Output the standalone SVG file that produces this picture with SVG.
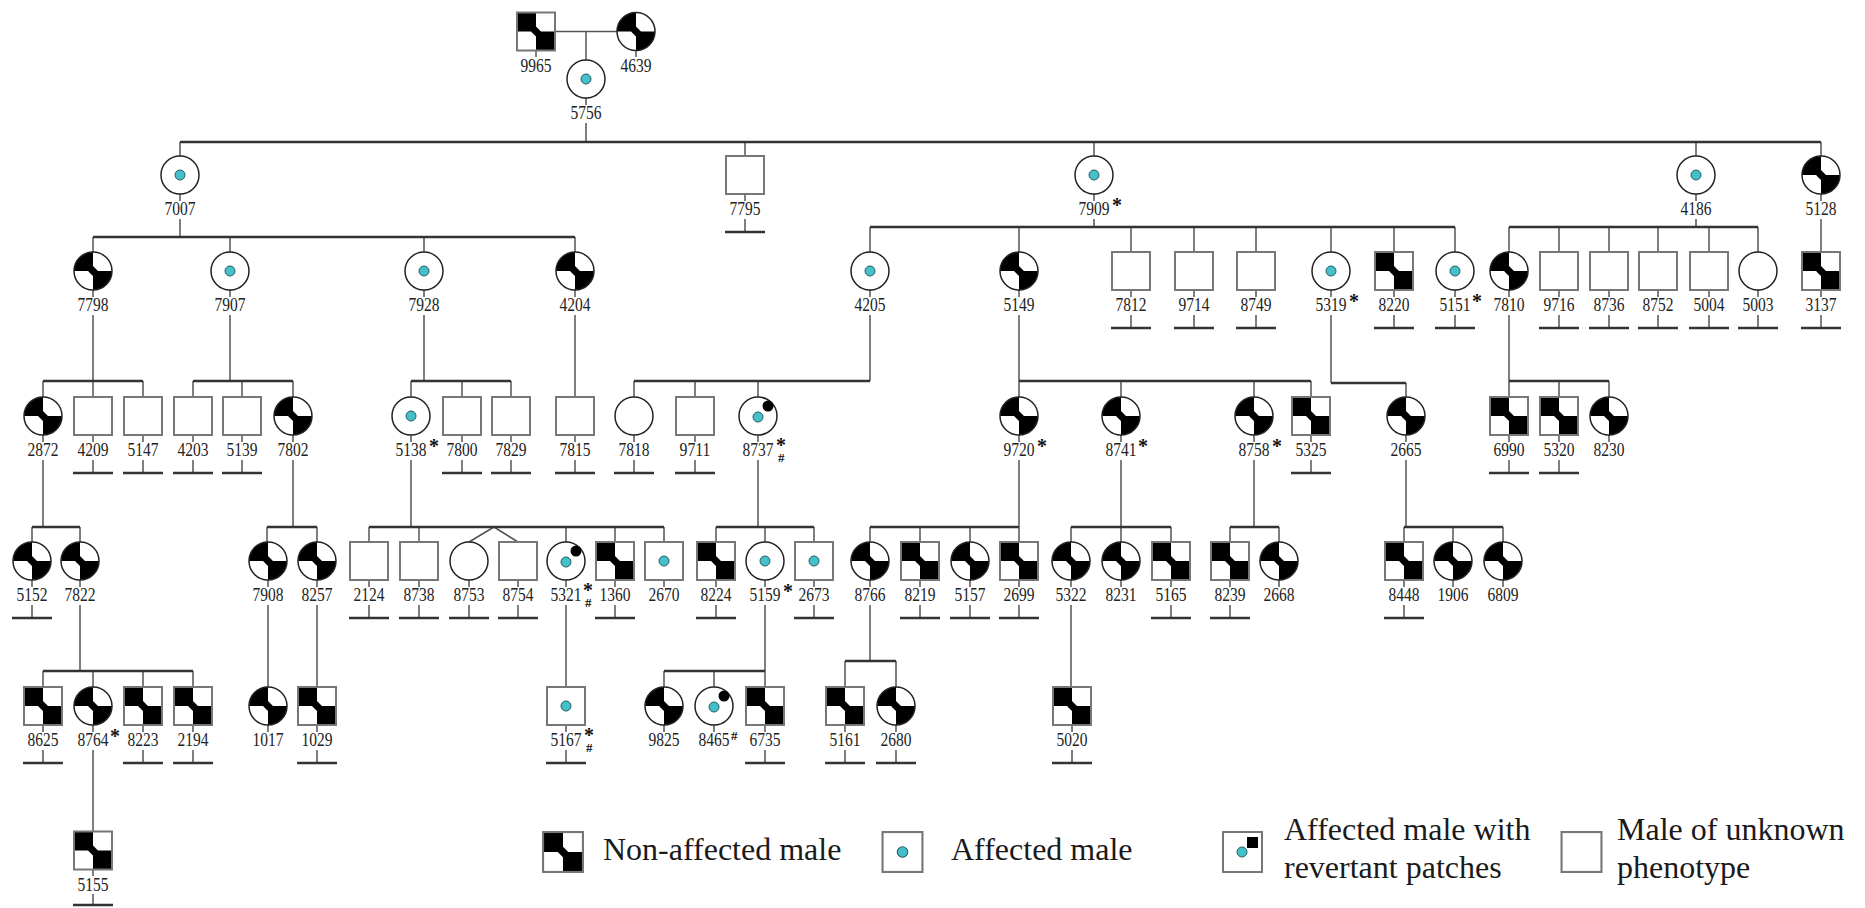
<svg xmlns="http://www.w3.org/2000/svg" xmlns:xlink="http://www.w3.org/1999/xlink" width="1865" height="908" viewBox="0 0 1865 908">
<style>
.ln{stroke:#555;stroke-width:1.5;fill:none}
.sb{stroke:#333;stroke-width:2.5;fill:none}
.lb{font-family:"Liberation Serif","Times New Roman",serif;font-size:18px;fill:#222;text-anchor:middle}
.ast{font-family:"Liberation Serif","Times New Roman",serif;font-size:20px;font-weight:bold;fill:#111}
.hs{font-family:"Liberation Serif","Times New Roman",serif;font-size:13px;font-weight:bold;fill:#111}
.lg{font-family:"Liberation Serif","Times New Roman",serif;font-size:32px;fill:#1a1a1a}
</style>
<defs>
<clipPath id="cc"><circle r="19"/></clipPath>
<g id="sqNA">
<rect x="-19" y="-19" width="38" height="38" fill="#fff"/>
<polygon points="-19,-19 0,-19 0,-5 5,0 19,0 19,19 0,19 0,5 -5,0 -19,0" fill="#000"/>
<rect x="-19" y="-19" width="38" height="38" fill="none" stroke="#777" stroke-width="2"/>
</g>
<g id="cNA">
<circle r="19" fill="#fff"/>
<polygon clip-path="url(#cc)" points="-20,-20 0,-20 0,-5 5,0 20,0 20,20 0,20 0,5 -5,0 -20,0" fill="#000"/>
<circle r="19" fill="none" stroke="#222" stroke-width="1.5"/>
</g>
<g id="sqU"><rect x="-19" y="-19" width="38" height="38" fill="#fff" stroke="#777" stroke-width="2"/></g>
<g id="cU"><circle r="19" fill="#fff" stroke="#222" stroke-width="1.5"/></g>
<circle id="dot" r="5" fill="#45c0c8" stroke="#235f66" stroke-width="1"/>
<g id="cA"><use href="#cU"/><use href="#dot"/></g>
<g id="sqA"><use href="#sqU"/><use href="#dot"/></g>
<g id="cR"><use href="#cU"/><use href="#dot" y="1"/><circle cx="10" cy="-10" r="5.5" fill="#000"/></g>
</defs>
<rect width="1865" height="908" fill="#fff"/>

<g id="connectors">
<path class="ln" d="M556 31.5H617M586 31.5V60M586 123V142M180 142V156M745 142V156M1094 142V156M1696 142V156M1821 142V156
M180 219V237M93 237V252M230 237V252M424 237V252M575 237V252
M1094 219V227M870 227V252M1019 227V252M1131 227V252M1194 227V252M1256 227V252M1331 227V252M1394 227V252M1455 227V252
M1696 219V227M1509 227V252M1559 227V252M1609 227V252M1658 227V252M1709 227V252M1758 227V252
M1821 219V252
M93 315V381M43 381V397M93 381V397M143 381V397
M230 315V381M193 381V397M242 381V397M293 381V397
M424 315V381M411 381V397M462 381V397M511 381V397
M575 315V397
M870 315V381M634 381V397M695 381V397M758 381V397
M1019 315V381M1019 381V397M1121 381V397M1254 381V397M1311 381V397
M1331 315V383M1406 383V397
M1509 315V381M1509 381V397M1559 381V397M1609 381V397
M43 460V527M32 527V542M80 527V542
M293 460V527M267 527V542M317 527V542
M411 460V527M369 527V542M419 527V542M566 527V542M615 527V542M664 527V542M494 527L469 542M494 527L518 542
M758 460V527M716 527V542M765 527V542M814 527V542
M1019 460V527M870 527V542M920 527V542M970 527V542M1019 527V542
M1121 460V527M1071 527V542M1121 527V542M1171 527V542
M1254 460V527M1230 527V542M1279 527V542
M1406 460V527M1404 527V542M1453 527V542M1503 527V542
M80 605V671M43 671V687M93 671V687M143 671V687M193 671V687
M268 605V687M317 605V687M566 605V687
M765 605V687M664 671V687M714 671V687
M870 605V661M845 661V687M896 661V687
M1071 605V687
M93 750V831"/>
<path class="sb" d="M180 142H1821M93 237H575M870 227H1455M1509 227H1758
M43 381H143M193 381H293M411 381H511M634 381H870M1019 381H1311M1331 383H1406M1509 381H1609
M32 527H80M267 527H317M369 527H664M716 527H814M870 527H1019M1071 527H1171M1230 527H1279M1404 527H1503
M43 671H193M664 671H765M845 661H896"/>
<path class="ln" d="M586 98V105M536 50.5V57M636 50.5V57
M180 194V201M745 194V201M1094 194V201M1696 194V201M1821 194V201
M93 290V297M230 290V297M424 290V297M575 290V297M870 290V297M1019 290V297M1131 290V297M1194 290V297M1256 290V297M1331 290V297M1394 290V297M1455 290V297M1509 290V297M1559 290V297M1609 290V297M1658 290V297M1709 290V297M1758 290V297M1821 290V297
M43 435V442M93 435V442M143 435V442M193 435V442M242 435V442M293 435V442M411 435V442M462 435V442M511 435V442M575 435V442M634 435V442M695 435V442M758 435V442M1019 435V442M1121 435V442M1254 435V442M1311 435V442M1406 435V442M1509 435V442M1559 435V442M1609 435V442
M32 580V587M80 580V587M268 580V587M317 580V587M369 580V587M419 580V587M469 580V587M518 580V587M566 580V587M615 580V587M664 580V587M716 580V587M765 580V587M814 580V587M870 580V587M920 580V587M970 580V587M1019 580V587M1071 580V587M1121 580V587M1171 580V587M1230 580V587M1279 580V587M1404 580V587M1453 580V587M1503 580V587
M43 725V732M93 725V732M143 725V732M193 725V732M268 725V732M317 725V732M566 725V732M664 725V732M714 725V732M765 725V732M845 725V732M896 725V732M1072 725V732
M93 869.5V876"/>
<path class="ln" d="M745 219V232
M1131 315V328M1194 315V328M1256 315V328M1394 315V328M1455 315V328M1559 315V328M1609 315V328M1658 315V328M1709 315V328M1758 315V328M1821 315V328
M93 460V473M143 460V473M193 460V473M242 460V473M462 460V473M511 460V473M575 460V473M634 460V473M695 460V473M1311 460V473M1509 460V473M1559 460V473
M32 605V618M369 605V618M419 605V618M469 605V618M518 605V618M615 605V618M716 605V618M814 605V618M920 605V618M970 605V618M1019 605V618M1171 605V618M1230 605V618M1404 605V618
M43 750V763M143 750V763M193 750V763M317 750V763M566 750V763M765 750V763M845 750V763M896 750V763M1072 750V763
M93 894V905"/>
<path class="sb" d="M725 232H765
M1111 328H1151M1174 328H1214M1236 328H1276M1374 328H1414M1435 328H1475M1539 328H1579M1589 328H1629M1638 328H1678M1689 328H1729M1738 328H1778M1801 328H1841
M73 473H113M123 473H163M173 473H213M222 473H262M442 473H482M491 473H531M555 473H595M614 473H654M675 473H715M1291 473H1331M1489 473H1529M1539 473H1579
M12 618H52M349 618H389M399 618H439M449 618H489M498 618H538M595 618H635M696 618H736M794 618H834M900 618H940M950 618H990M999 618H1039M1151 618H1191M1210 618H1250M1384 618H1424
M23 763H63M123 763H163M173 763H213M297 763H337M546 763H586M745 763H785M825 763H865M876 763H916M1052 763H1092
M73 905H113"/>
</g>

<g id="n9965"><use href="#sqNA" x="536" y="31.5"/><text class="lb" x="536" y="72" textLength="31" lengthAdjust="spacingAndGlyphs">9965</text></g>
<g id="n4639"><use href="#cNA" x="636" y="31.5"/><text class="lb" x="636" y="72" textLength="31" lengthAdjust="spacingAndGlyphs">4639</text></g>
<g id="n5756"><use href="#cA" x="586" y="79"/><text class="lb" x="586" y="119" textLength="31" lengthAdjust="spacingAndGlyphs">5756</text></g>

<g id="n7007"><use href="#cA" x="180" y="175"/><text class="lb" x="180" y="215" textLength="31" lengthAdjust="spacingAndGlyphs">7007</text></g>
<g id="n7795"><use href="#sqU" x="745" y="175"/><text class="lb" x="745" y="215" textLength="31" lengthAdjust="spacingAndGlyphs">7795</text></g>
<g id="n7909"><use href="#cA" x="1094" y="175"/><text class="lb" x="1094" y="215" textLength="31" lengthAdjust="spacingAndGlyphs">7909</text><text class="ast" x="1112" y="211.5">*</text></g>
<g id="n4186"><use href="#cA" x="1696" y="175"/><text class="lb" x="1696" y="215" textLength="31" lengthAdjust="spacingAndGlyphs">4186</text></g>
<g id="n5128"><use href="#cNA" x="1821" y="175"/><text class="lb" x="1821" y="215" textLength="31" lengthAdjust="spacingAndGlyphs">5128</text></g>

<g id="n7798"><use href="#cNA" x="93" y="271"/><text class="lb" x="93" y="311" textLength="31" lengthAdjust="spacingAndGlyphs">7798</text></g>
<g id="n7907"><use href="#cA" x="230" y="271"/><text class="lb" x="230" y="311" textLength="31" lengthAdjust="spacingAndGlyphs">7907</text></g>
<g id="n7928"><use href="#cA" x="424" y="271"/><text class="lb" x="424" y="311" textLength="31" lengthAdjust="spacingAndGlyphs">7928</text></g>
<g id="n4204"><use href="#cNA" x="575" y="271"/><text class="lb" x="575" y="311" textLength="31" lengthAdjust="spacingAndGlyphs">4204</text></g>
<g id="n4205"><use href="#cA" x="870" y="271"/><text class="lb" x="870" y="311" textLength="31" lengthAdjust="spacingAndGlyphs">4205</text></g>
<g id="n5149"><use href="#cNA" x="1019" y="271"/><text class="lb" x="1019" y="311" textLength="31" lengthAdjust="spacingAndGlyphs">5149</text></g>
<g id="n7812"><use href="#sqU" x="1131" y="271"/><text class="lb" x="1131" y="311" textLength="31" lengthAdjust="spacingAndGlyphs">7812</text></g>
<g id="n9714"><use href="#sqU" x="1194" y="271"/><text class="lb" x="1194" y="311" textLength="31" lengthAdjust="spacingAndGlyphs">9714</text></g>
<g id="n8749"><use href="#sqU" x="1256" y="271"/><text class="lb" x="1256" y="311" textLength="31" lengthAdjust="spacingAndGlyphs">8749</text></g>
<g id="n5319"><use href="#cA" x="1331" y="271"/><text class="lb" x="1331" y="311" textLength="31" lengthAdjust="spacingAndGlyphs">5319</text><text class="ast" x="1349" y="307.5">*</text></g>
<g id="n8220"><use href="#sqNA" x="1394" y="271"/><text class="lb" x="1394" y="311" textLength="31" lengthAdjust="spacingAndGlyphs">8220</text></g>
<g id="n5151"><use href="#cA" x="1455" y="271"/><text class="lb" x="1455" y="311" textLength="31" lengthAdjust="spacingAndGlyphs">5151</text><text class="ast" x="1472" y="307.5">*</text></g>
<g id="n7810"><use href="#cNA" x="1509" y="271"/><text class="lb" x="1509" y="311" textLength="31" lengthAdjust="spacingAndGlyphs">7810</text></g>
<g id="n9716"><use href="#sqU" x="1559" y="271"/><text class="lb" x="1559" y="311" textLength="31" lengthAdjust="spacingAndGlyphs">9716</text></g>
<g id="n8736"><use href="#sqU" x="1609" y="271"/><text class="lb" x="1609" y="311" textLength="31" lengthAdjust="spacingAndGlyphs">8736</text></g>
<g id="n8752"><use href="#sqU" x="1658" y="271"/><text class="lb" x="1658" y="311" textLength="31" lengthAdjust="spacingAndGlyphs">8752</text></g>
<g id="n5004"><use href="#sqU" x="1709" y="271"/><text class="lb" x="1709" y="311" textLength="31" lengthAdjust="spacingAndGlyphs">5004</text></g>
<g id="n5003"><use href="#cU" x="1758" y="271"/><text class="lb" x="1758" y="311" textLength="31" lengthAdjust="spacingAndGlyphs">5003</text></g>
<g id="n3137"><use href="#sqNA" x="1821" y="271"/><text class="lb" x="1821" y="311" textLength="31" lengthAdjust="spacingAndGlyphs">3137</text></g>

<g id="n2872"><use href="#cNA" x="43" y="416"/><text class="lb" x="43" y="456" textLength="31" lengthAdjust="spacingAndGlyphs">2872</text></g>
<g id="n4209"><use href="#sqU" x="93" y="416"/><text class="lb" x="93" y="456" textLength="31" lengthAdjust="spacingAndGlyphs">4209</text></g>
<g id="n5147"><use href="#sqU" x="143" y="416"/><text class="lb" x="143" y="456" textLength="31" lengthAdjust="spacingAndGlyphs">5147</text></g>
<g id="n4203"><use href="#sqU" x="193" y="416"/><text class="lb" x="193" y="456" textLength="31" lengthAdjust="spacingAndGlyphs">4203</text></g>
<g id="n5139"><use href="#sqU" x="242" y="416"/><text class="lb" x="242" y="456" textLength="31" lengthAdjust="spacingAndGlyphs">5139</text></g>
<g id="n7802"><use href="#cNA" x="293" y="416"/><text class="lb" x="293" y="456" textLength="31" lengthAdjust="spacingAndGlyphs">7802</text></g>
<g id="n5138"><use href="#cA" x="411" y="416"/><text class="lb" x="411" y="456" textLength="31" lengthAdjust="spacingAndGlyphs">5138</text><text class="ast" x="429" y="452.5">*</text></g>
<g id="n7800"><use href="#sqU" x="462" y="416"/><text class="lb" x="462" y="456" textLength="31" lengthAdjust="spacingAndGlyphs">7800</text></g>
<g id="n7829"><use href="#sqU" x="511" y="416"/><text class="lb" x="511" y="456" textLength="31" lengthAdjust="spacingAndGlyphs">7829</text></g>
<g id="n7815"><use href="#sqU" x="575" y="416"/><text class="lb" x="575" y="456" textLength="31" lengthAdjust="spacingAndGlyphs">7815</text></g>
<g id="n7818"><use href="#cU" x="634" y="416"/><text class="lb" x="634" y="456" textLength="31" lengthAdjust="spacingAndGlyphs">7818</text></g>
<g id="n9711"><use href="#sqU" x="695" y="416"/><text class="lb" x="695" y="456" textLength="31" lengthAdjust="spacingAndGlyphs">9711</text></g>
<g id="n8737"><use href="#cR" x="758" y="416"/><text class="lb" x="758" y="456" textLength="31" lengthAdjust="spacingAndGlyphs">8737</text><text class="ast"><tspan x="776" y="451.5">*</tspan><tspan class="hs" x="778" y="462">#</tspan></text></g>
<g id="n9720"><use href="#cNA" x="1019" y="416"/><text class="lb" x="1019" y="456" textLength="31" lengthAdjust="spacingAndGlyphs">9720</text><text class="ast" x="1037" y="452.5">*</text></g>
<g id="n8741"><use href="#cNA" x="1121" y="416"/><text class="lb" x="1121" y="456" textLength="31" lengthAdjust="spacingAndGlyphs">8741</text><text class="ast" x="1138" y="452.5">*</text></g>
<g id="n8758"><use href="#cNA" x="1254" y="416"/><text class="lb" x="1254" y="456" textLength="31" lengthAdjust="spacingAndGlyphs">8758</text><text class="ast" x="1272" y="452.5">*</text></g>
<g id="n5325"><use href="#sqNA" x="1311" y="416"/><text class="lb" x="1311" y="456" textLength="31" lengthAdjust="spacingAndGlyphs">5325</text></g>
<g id="n2665"><use href="#cNA" x="1406" y="416"/><text class="lb" x="1406" y="456" textLength="31" lengthAdjust="spacingAndGlyphs">2665</text></g>
<g id="n6990"><use href="#sqNA" x="1509" y="416"/><text class="lb" x="1509" y="456" textLength="31" lengthAdjust="spacingAndGlyphs">6990</text></g>
<g id="n5320"><use href="#sqNA" x="1559" y="416"/><text class="lb" x="1559" y="456" textLength="31" lengthAdjust="spacingAndGlyphs">5320</text></g>
<g id="n8230"><use href="#cNA" x="1609" y="416"/><text class="lb" x="1609" y="456" textLength="31" lengthAdjust="spacingAndGlyphs">8230</text></g>

<g id="n5152"><use href="#cNA" x="32" y="561"/><text class="lb" x="32" y="601" textLength="31" lengthAdjust="spacingAndGlyphs">5152</text></g>
<g id="n7822"><use href="#cNA" x="80" y="561"/><text class="lb" x="80" y="601" textLength="31" lengthAdjust="spacingAndGlyphs">7822</text></g>
<g id="n7908"><use href="#cNA" x="268" y="561"/><text class="lb" x="268" y="601" textLength="31" lengthAdjust="spacingAndGlyphs">7908</text></g>
<g id="n8257"><use href="#cNA" x="317" y="561"/><text class="lb" x="317" y="601" textLength="31" lengthAdjust="spacingAndGlyphs">8257</text></g>
<g id="n2124"><use href="#sqU" x="369" y="561"/><text class="lb" x="369" y="601" textLength="31" lengthAdjust="spacingAndGlyphs">2124</text></g>
<g id="n8738"><use href="#sqU" x="419" y="561"/><text class="lb" x="419" y="601" textLength="31" lengthAdjust="spacingAndGlyphs">8738</text></g>
<g id="n8753"><use href="#cU" x="469" y="561"/><text class="lb" x="469" y="601" textLength="31" lengthAdjust="spacingAndGlyphs">8753</text></g>
<g id="n8754"><use href="#sqU" x="518" y="561"/><text class="lb" x="518" y="601" textLength="31" lengthAdjust="spacingAndGlyphs">8754</text></g>
<g id="n5321"><use href="#cR" x="566" y="561"/><text class="lb" x="566" y="601" textLength="31" lengthAdjust="spacingAndGlyphs">5321</text><text class="ast"><tspan x="583" y="596.5">*</tspan><tspan class="hs" x="585" y="607">#</tspan></text></g>
<g id="n1360"><use href="#sqNA" x="615" y="561"/><text class="lb" x="615" y="601" textLength="31" lengthAdjust="spacingAndGlyphs">1360</text></g>
<g id="n2670"><use href="#sqA" x="664" y="561"/><text class="lb" x="664" y="601" textLength="31" lengthAdjust="spacingAndGlyphs">2670</text></g>
<g id="n8224"><use href="#sqNA" x="716" y="561"/><text class="lb" x="716" y="601" textLength="31" lengthAdjust="spacingAndGlyphs">8224</text></g>
<g id="n5159"><use href="#cA" x="765" y="561"/><text class="lb" x="765" y="601" textLength="31" lengthAdjust="spacingAndGlyphs">5159</text><text class="ast" x="783" y="597.5">*</text></g>
<g id="n2673"><use href="#sqA" x="814" y="561"/><text class="lb" x="814" y="601" textLength="31" lengthAdjust="spacingAndGlyphs">2673</text></g>
<g id="n8766"><use href="#cNA" x="870" y="561"/><text class="lb" x="870" y="601" textLength="31" lengthAdjust="spacingAndGlyphs">8766</text></g>
<g id="n8219"><use href="#sqNA" x="920" y="561"/><text class="lb" x="920" y="601" textLength="31" lengthAdjust="spacingAndGlyphs">8219</text></g>
<g id="n5157"><use href="#cNA" x="970" y="561"/><text class="lb" x="970" y="601" textLength="31" lengthAdjust="spacingAndGlyphs">5157</text></g>
<g id="n2699"><use href="#sqNA" x="1019" y="561"/><text class="lb" x="1019" y="601" textLength="31" lengthAdjust="spacingAndGlyphs">2699</text></g>
<g id="n5322"><use href="#cNA" x="1071" y="561"/><text class="lb" x="1071" y="601" textLength="31" lengthAdjust="spacingAndGlyphs">5322</text></g>
<g id="n8231"><use href="#cNA" x="1121" y="561"/><text class="lb" x="1121" y="601" textLength="31" lengthAdjust="spacingAndGlyphs">8231</text></g>
<g id="n5165"><use href="#sqNA" x="1171" y="561"/><text class="lb" x="1171" y="601" textLength="31" lengthAdjust="spacingAndGlyphs">5165</text></g>
<g id="n8239"><use href="#sqNA" x="1230" y="561"/><text class="lb" x="1230" y="601" textLength="31" lengthAdjust="spacingAndGlyphs">8239</text></g>
<g id="n2668"><use href="#cNA" x="1279" y="561"/><text class="lb" x="1279" y="601" textLength="31" lengthAdjust="spacingAndGlyphs">2668</text></g>
<g id="n8448"><use href="#sqNA" x="1404" y="561"/><text class="lb" x="1404" y="601" textLength="31" lengthAdjust="spacingAndGlyphs">8448</text></g>
<g id="n1906"><use href="#cNA" x="1453" y="561"/><text class="lb" x="1453" y="601" textLength="31" lengthAdjust="spacingAndGlyphs">1906</text></g>
<g id="n6809"><use href="#cNA" x="1503" y="561"/><text class="lb" x="1503" y="601" textLength="31" lengthAdjust="spacingAndGlyphs">6809</text></g>

<g id="n8625"><use href="#sqNA" x="43" y="706"/><text class="lb" x="43" y="746" textLength="31" lengthAdjust="spacingAndGlyphs">8625</text></g>
<g id="n8764"><use href="#cNA" x="93" y="706"/><text class="lb" x="93" y="746" textLength="31" lengthAdjust="spacingAndGlyphs">8764</text><text class="ast" x="110" y="742.5">*</text></g>
<g id="n8223"><use href="#sqNA" x="143" y="706"/><text class="lb" x="143" y="746" textLength="31" lengthAdjust="spacingAndGlyphs">8223</text></g>
<g id="n2194"><use href="#sqNA" x="193" y="706"/><text class="lb" x="193" y="746" textLength="31" lengthAdjust="spacingAndGlyphs">2194</text></g>
<g id="n1017"><use href="#cNA" x="268" y="706"/><text class="lb" x="268" y="746" textLength="31" lengthAdjust="spacingAndGlyphs">1017</text></g>
<g id="n1029"><use href="#sqNA" x="317" y="706"/><text class="lb" x="317" y="746" textLength="31" lengthAdjust="spacingAndGlyphs">1029</text></g>
<g id="n5167"><use href="#sqA" x="566" y="706"/><text class="lb" x="566" y="746" textLength="31" lengthAdjust="spacingAndGlyphs">5167</text><text class="ast"><tspan x="584" y="741.5">*</tspan><tspan class="hs" x="586" y="752">#</tspan></text></g>
<g id="n9825"><use href="#cNA" x="664" y="706"/><text class="lb" x="664" y="746" textLength="31" lengthAdjust="spacingAndGlyphs">9825</text></g>
<g id="n8465"><use href="#cR" x="714" y="706"/><text class="lb" x="714" y="746" textLength="31" lengthAdjust="spacingAndGlyphs">8465</text><text class="hs" x="731" y="740">#</text></g>
<g id="n6735"><use href="#sqNA" x="765" y="706"/><text class="lb" x="765" y="746" textLength="31" lengthAdjust="spacingAndGlyphs">6735</text></g>
<g id="n5161"><use href="#sqNA" x="845" y="706"/><text class="lb" x="845" y="746" textLength="31" lengthAdjust="spacingAndGlyphs">5161</text></g>
<g id="n2680"><use href="#cNA" x="896" y="706"/><text class="lb" x="896" y="746" textLength="31" lengthAdjust="spacingAndGlyphs">2680</text></g>
<g id="n5020"><use href="#sqNA" x="1072" y="706"/><text class="lb" x="1072" y="746" textLength="31" lengthAdjust="spacingAndGlyphs">5020</text></g>

<g id="n5155"><use href="#sqNA" x="93" y="850.5"/><text class="lb" x="93" y="890.5" textLength="31" lengthAdjust="spacingAndGlyphs">5155</text></g>

<g id="legend">
<g id="lg-nonaffected"><use href="#sqNA" transform="translate(563 852) scale(1.05)"/><text class="lg" x="603" y="860">Non-affected male</text></g>
<g id="lg-affected"><use href="#sqA" transform="translate(902.5 852) scale(1.05)"/><text class="lg" x="951" y="860">Affected male</text></g>
<g id="lg-revertant"><rect x="1223" y="832" width="39" height="40" fill="#fff" stroke="#777" stroke-width="2"/><rect x="1247" y="837" width="11" height="11" fill="#000"/><use href="#dot" x="1242" y="852"/><text class="lg" x="1284" y="840">Affected male with</text><text class="lg" x="1284" y="878">revertant patches</text></g>
<g id="lg-unknown"><use href="#sqU" transform="translate(1581.5 852) scale(1.05)"/><text class="lg" x="1617" y="840">Male of unknown</text><text class="lg" x="1617" y="878">phenotype</text></g>
</g>
</svg>
